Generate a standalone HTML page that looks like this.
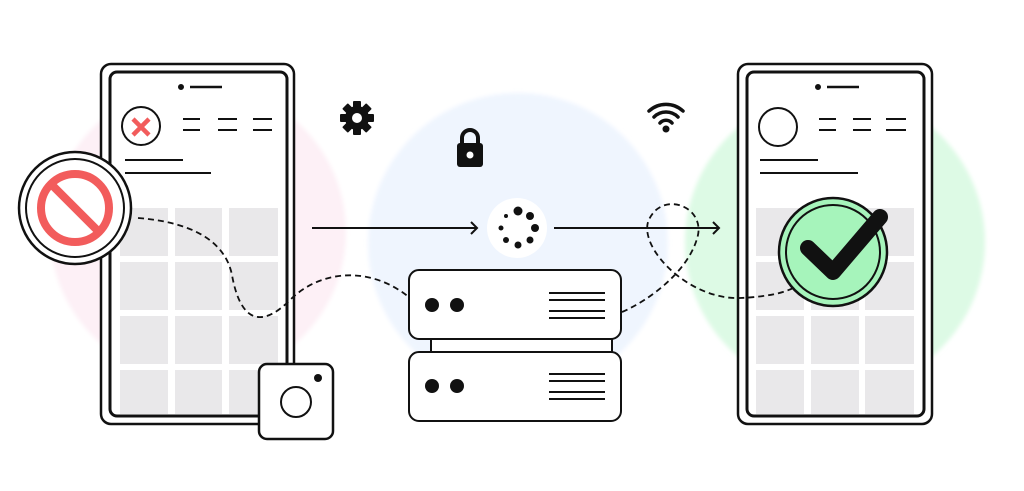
<!DOCTYPE html>
<html><head><meta charset="utf-8"><style>body{margin:0;background:#fff}svg{display:block}</style></head><body>
<svg width="1024" height="491" viewBox="0 0 1024 491" xmlns="http://www.w3.org/2000/svg">
<defs><filter id="b"><feGaussianBlur stdDeviation="2"/></filter></defs>
<circle cx="198" cy="232" r="148" fill="#fdf0f6" filter="url(#b)"/>
<circle cx="518" cy="243" r="150" fill="#eff5fe" filter="url(#b)"/>
<circle cx="835" cy="242" r="150" fill="#ddfae5" filter="url(#b)"/>
<g fill="none" stroke="#111" stroke-width="2.5">
<rect x="101" y="64" width="193" height="360" rx="10" fill="#fff"/>
<rect x="110" y="72" width="177" height="344" rx="7" stroke-width="3"/>
<rect x="738" y="64" width="194" height="360" rx="10" fill="#fff"/>
<rect x="747" y="72" width="177" height="344" rx="7" stroke-width="3"/>
</g>
<g fill="#e9e8ea">
<rect x="120" y="208" width="48" height="48"/><rect x="175" y="208" width="47" height="48"/><rect x="229" y="208" width="49" height="48"/>
<rect x="120" y="262" width="48" height="48"/><rect x="175" y="262" width="47" height="48"/><rect x="229" y="262" width="49" height="48"/>
<rect x="120" y="316" width="48" height="48"/><rect x="175" y="316" width="47" height="48"/><rect x="229" y="316" width="49" height="48"/>
<rect x="120" y="370" width="48" height="44"/><rect x="175" y="370" width="47" height="44"/><rect x="229" y="370" width="49" height="44"/>
<rect x="756" y="208" width="48" height="48"/><rect x="811" y="208" width="48" height="48"/><rect x="865" y="208" width="49" height="48"/>
<rect x="756" y="262" width="48" height="48"/><rect x="811" y="262" width="48" height="48"/><rect x="865" y="262" width="49" height="48"/>
<rect x="756" y="316" width="48" height="48"/><rect x="811" y="316" width="48" height="48"/><rect x="865" y="316" width="49" height="48"/>
<rect x="756" y="370" width="48" height="44"/><rect x="811" y="370" width="48" height="44"/><rect x="865" y="370" width="49" height="44"/>
</g>
<g stroke="#111" stroke-width="2" fill="none">
<circle cx="181" cy="87" r="2" fill="#111"/><line x1="190" y1="87" x2="222" y2="87" stroke-width="2.5"/>
<circle cx="141" cy="126" r="19" fill="#fff"/>
<path d="M183 119h17M218 119h19M253 119h19M183 130h17M218 130h19M253 130h19"/>
<path d="M125 160h58M125 173h86"/>
<circle cx="818" cy="87" r="2" fill="#111"/><line x1="827" y1="87" x2="859" y2="87" stroke-width="2.5"/>
<circle cx="778" cy="127" r="19" fill="#fff"/>
<path d="M819 119h17M853 119h18M886 119h20M819 130h17M853 130h18M886 130h20"/>
<path d="M760 160h58M760 173h98"/>
</g>
<path d="M133 119l16 16M149 119l-16 16" stroke="#f25c5c" stroke-width="4.5"/>
<g fill="none" stroke="#111" stroke-width="1.8" stroke-dasharray="6 4">
<path d="M138 218C190 222 225 240 232 275C240 320 260 330 290 300C320 270 370 265 410 298"/>
<path d="M622 312C650 300 690 270 698 235C704 205 660 190 648 222C640 250 690 300 740 298C765 297 785 293 795 287"/>
</g>
<circle cx="75" cy="208" r="56" fill="#fff" stroke="#111" stroke-width="2.5"/>
<circle cx="75" cy="208" r="49" fill="#fff" stroke="#111" stroke-width="2"/>
<circle cx="75" cy="208" r="34" fill="none" stroke="#f25c5c" stroke-width="8"/>
<line x1="52" y1="185" x2="98" y2="231" stroke="#f25c5c" stroke-width="8"/>
<rect x="259" y="364" width="74" height="75" rx="8" fill="#fff" stroke="#111" stroke-width="2.5"/>
<circle cx="296" cy="402" r="15" fill="#fff" stroke="#111" stroke-width="2"/>
<circle cx="318" cy="378" r="4" fill="#111"/>
<g stroke="#111" stroke-width="2" fill="none">
<path d="M312 228H477M471 222l6 6-6 6"/>
<path d="M554 228H719M713 222l6 6-6 6"/>
</g>
<circle cx="517" cy="228" r="30" fill="#fff"/>
<g fill="#111">
<circle cx="518" cy="211" r="4.5"/><circle cx="530" cy="216" r="4"/><circle cx="535" cy="228" r="4"/><circle cx="530" cy="240" r="3.5"/><circle cx="518" cy="245" r="3.5"/><circle cx="506" cy="240" r="3"/><circle cx="501" cy="228" r="2.5"/><circle cx="506" cy="216" r="2"/>
</g>
<g stroke="#111" stroke-width="2" fill="#fff">
<rect x="431" y="336" width="181" height="18"/>
<rect x="409" y="270" width="212" height="69" rx="10"/>
<rect x="409" y="352" width="212" height="69" rx="10"/>
</g>
<g fill="#111"><circle cx="432" cy="305" r="7"/><circle cx="457" cy="305" r="7"/><circle cx="432" cy="386" r="7"/><circle cx="457" cy="386" r="7"/></g>
<g stroke="#111" stroke-width="2"><path d="M549 293h56M549 300h56M549 311h56M549 318h56M549 374h56M549 381h56M549 392h56M549 399h56"/></g>
<circle cx="833" cy="252" r="54" fill="#a6f4bb" stroke="#111" stroke-width="2.5"/>
<circle cx="833" cy="252" r="47" fill="none" stroke="#111" stroke-width="2"/>
<path d="M808 248L833 272L880 217" fill="none" stroke="#111" stroke-width="16" stroke-linecap="round" stroke-linejoin="round"/>
<g transform="translate(357 118)" fill="#111">
<rect x="-4" y="-17" width="8" height="34" rx="1"/>
<rect x="-4" y="-17" width="8" height="34" rx="1" transform="rotate(45)"/>
<rect x="-4" y="-17" width="8" height="34" rx="1" transform="rotate(90)"/>
<rect x="-4" y="-17" width="8" height="34" rx="1" transform="rotate(135)"/>
<circle r="12"/><circle r="5" fill="#fff"/>
</g>
<path d="M462 144v-6a8 8 0 0 1 16 0v6" fill="none" stroke="#111" stroke-width="4"/>
<rect x="457" y="143" width="26" height="24" rx="3" fill="#111"/>
<circle cx="470" cy="155" r="3.5" fill="#fff"/>
<g fill="none" stroke="#111" stroke-width="3.5" stroke-linecap="round">
<path d="M649 111a25 25 0 0 1 34 0"/><path d="M654 117a17 17 0 0 1 24 0"/><path d="M660 123a8 8 0 0 1 12 0"/>
</g>
<circle cx="666" cy="129" r="3.5" fill="#111"/>
</svg>
</body></html>
